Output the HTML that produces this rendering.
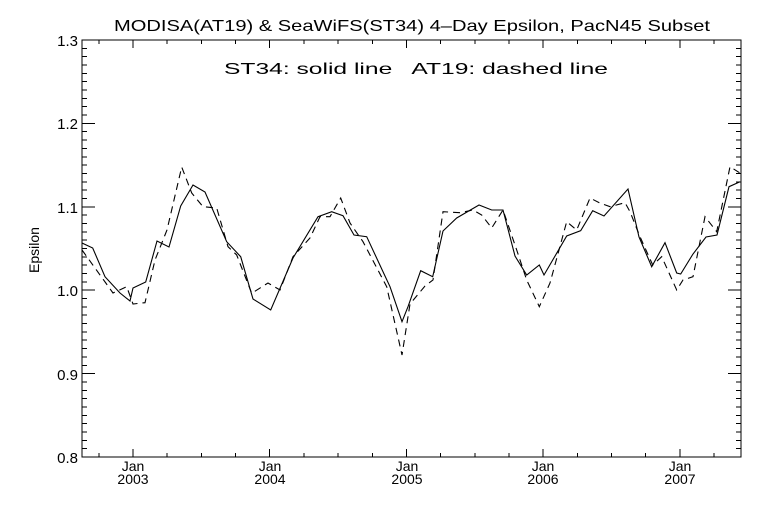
<!DOCTYPE html>
<html><head><meta charset="utf-8"><style>
html,body{margin:0;padding:0;background:#fff}
svg text{font-family:"Liberation Sans",sans-serif;fill:#000}
</style></head><body>
<svg width="768" height="512" viewBox="0 0 768 512" xmlns="http://www.w3.org/2000/svg">
<rect width="768" height="512" fill="#fff"/>
<g stroke="#000" stroke-width="1" fill="none" shape-rendering="crispEdges">
<rect x="82" y="40" width="659" height="417"/>
<path d="
M82,40h13 M82,123.4h13 M82,206.8h13 M82,290.2h13 M82,373.6h13 M82,457h13
M741,40h-13 M741,123.4h-13 M741,206.8h-13 M741,290.2h-13 M741,373.6h-13 M741,457h-13"/>
</g>
<g stroke="#000" stroke-width="1" shape-rendering="crispEdges" id="minor"></g>
<g font-size="15" text-anchor="end">
<text x="78" y="46">1.3</text>
<text x="78" y="129">1.2</text>
<text x="78" y="213">1.1</text>
<text x="78" y="296">1.0</text>
<text x="78" y="380">0.9</text>
<text x="78" y="463">0.8</text>
</g>
<g font-size="14" text-anchor="middle">
<text x="133" y="471">Jan</text><text x="133" y="484">2003</text>
<text x="270" y="471">Jan</text><text x="270" y="484">2004</text>
<text x="407" y="471">Jan</text><text x="407" y="484">2005</text>
<text x="543" y="471">Jan</text><text x="543" y="484">2006</text>
<text x="680" y="471">Jan</text><text x="680" y="484">2007</text>
</g>
<text x="114" y="31" font-size="16" textLength="596" lengthAdjust="spacingAndGlyphs">MODISA(AT19) &amp; SeaWiFS(ST34) 4–Day Epsilon, PacN45 Subset</text>
<text x="224" y="74" font-size="16" textLength="384" lengthAdjust="spacingAndGlyphs" xml:space="preserve">ST34: solid line   AT19: dashed line</text>
<text transform="translate(39,250) rotate(-90)" font-size="14" text-anchor="middle">Epsilon</text>
<polyline fill="none" stroke="#000" stroke-width="1.1" points="82,243 92.7,248 105,276.7 120,293 130,301 133,288 145.7,282 157,241 169,247 180.7,206 193,185 205,192 226.7,241.7 240.7,256.7 253,299 270.7,310 293,258 318,216.7 331.7,211.7 343,215.7 354,235 366.7,236.7 390,286.7 402,321.7 408,306.7 420.7,270.7 432.7,276.7 443,231 456.7,218 479,205 491.7,210 503,210 515,256 526.7,275 539.3,265 544,275 566.7,236 580.7,230.7 592.7,210.7 604,216 628,189 639,237 651.7,266.7 665,242.7 676.7,273 680.7,274 693,254 706,237 717,235 729,186.7 740,181.7"/>
<polyline fill="none" stroke="#000" stroke-width="1.1" stroke-dasharray="7,5" points="82,250 95,268 113,293 126.7,286.7 133,304 145,302.7 155,260 167,230 181.7,167 191.7,193 203,206.7 216.7,208 228,246.7 236.7,255 251.7,293.3 268,283 280,290 293,256.7 310,238 320,216.7 330,216.7 340.7,198 350,223 363,241.7 386.7,286.7 402,355 410,304 425,286 433,280 443,211.7 460,212.7 473,210 481.7,215 491.7,228 503,210 516.7,250 526.7,280 539.3,306.7 550,283 566.7,221.7 576.7,230 590,198 599.3,202.7 610,206.7 625,202.7 630,211.7 640,236.7 652.7,265 661.7,256.7 676.7,290 683,280 693,276.7 705,216.7 716.7,231.7 730,166.7 740,173"/>
<script>
(function(){var g=document.getElementById('minor'),d='';
for(var i=0;i<=50;i++){var y=40+i*417/50;if(i%10)d+='M82,'+y.toFixed(1)+'h5M741,'+y.toFixed(1)+'h-5';}
for(var k=-2;k<=18;k++){var x=133+k*34.18;if(x<82||x>741)continue;var L=(k%4==0)?8:4;d+='M'+x.toFixed(1)+',457v-'+L+'M'+x.toFixed(1)+',40v'+L;}
var p=document.createElementNS('http://www.w3.org/2000/svg','path');p.setAttribute('d',d);p.setAttribute('fill','none');g.appendChild(p);})();
</script>
</svg>
</body></html>
